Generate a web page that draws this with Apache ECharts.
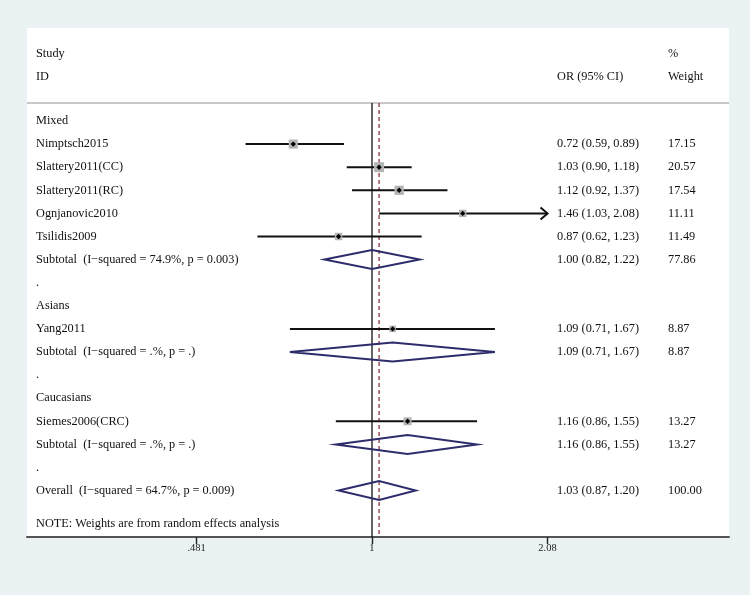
<!DOCTYPE html>
<html><head><meta charset="utf-8">
<script src="https://cdn.jsdelivr.net/npm/echarts@6/dist/echarts.min.js"></script>
<style>html,body{margin:0;padding:0;background:#eaf2f3}#c{width:750px;height:595px}</style>
</head><body><div id="c"></div>
<script>
// ---------------- data ----------------
const rowLabels = ['Mixed','Nimptsch2015','Slattery2011(CC)','Slattery2011(RC)','Ognjanovic2010','Tsilidis2009',
  'Subtotal  (I\u2212squared = 74.9%, p = 0.003)','.','Asians','Yang2011','Subtotal  (I\u2212squared = .%, p = .)','.',
  'Caucasians','Siemes2006(CRC)','Subtotal  (I\u2212squared = .%, p = .)','.','Overall  (I\u2212squared = 64.7%, p = 0.009)'];
const rowKinds = ['group','study','study','study','study','study','sum','blank','group','study','sum','blank','group','study','sum','blank','sum'];
const orValues = [null,0.72,1.03,1.12,1.46,0.87,1.00,null,null,1.09,1.09,null,null,1.16,1.16,null,1.03];
const ciLower  = [null,0.59,0.90,0.92,1.03,0.62,0.82,null,null,0.71,0.71,null,null,0.86,0.86,null,0.87];
const ciUpper  = [null,0.89,1.18,1.37,2.08,1.23,1.22,null,null,1.67,1.67,null,null,1.55,1.55,null,1.20];
const weights  = [null,17.15,20.57,17.54,11.11,11.49,77.86,null,null,8.87,8.87,null,null,13.27,13.27,null,100.00];
const headerStudy = ['Study','ID'];
const headerOR = ['','OR (95% CI)'];
const headerWeight = ['%','Weight'];
const noteText = 'NOTE: Weights are from random effects analysis';
const tickValues = [0.481, 1, 2.08];
const tickLabels = ['.481','1','2.08'];
const nullValue = 1;
const overallOR = 1.03;

// ---------------- layout ----------------
const FONT = 'Liberation Serif';
const FS = 12.3;
const X_TEXT = 36, X_OR = 557, X_W = 668;
const Y_HEADER = [-2.93, -1.93], Y_SEP = -0.78, Y_NOTE = 17.45, Y_MIN = -4.026, Y_MAX = 18.009;
const LN = Math.log;

const studyData = [], sumData = [], textData = [];
rowLabels.forEach((lab, i) => {
  const k = rowKinds[i];
  const ciStr = orValues[i] != null ? orValues[i].toFixed(2) + ' (' + ciLower[i].toFixed(2) + ', ' + ciUpper[i].toFixed(2) + ')' : '';
  const wStr = weights[i] != null ? weights[i].toFixed(2) : '';
  textData.push({value: [0, i], left: lab, mid: ciStr, right: wStr});
  if (k === 'study') {
    const hiClip = Math.min(ciUpper[i], tickValues[tickValues.length-1]);
    const arrow = ciUpper[i] >= tickValues[tickValues.length-1] ? 1 : 0;
    studyData.push([LN(orValues[i]), i, LN(ciLower[i]), LN(hiClip), weights[i], arrow]);
  } else if (k === 'sum') {
    sumData.push([LN(orValues[i]), i, LN(ciLower[i]), LN(ciUpper[i])]);
  }
});
Y_HEADER.forEach((y, j) => textData.push({value: [0, y], left: headerStudy[j], mid: headerOR[j], right: headerWeight[j]}));
textData.push({value: [0, Y_NOTE], left: noteText, mid: '', right: ''});

const txt = (x, y, s) => ({type: 'text', x: x, y: y, style: {text: s, fill: '#111', font: FS + 'px "' + FONT + '"', textVerticalAlign: 'middle', textAlign: 'left'}});

const chart = echarts.init(document.getElementById('c'), null, {renderer: 'canvas'});
chart.setOption({
  backgroundColor: '#eaf2f3',
  animation: false,
  grid: {left: 27, right: 21, top: 28, bottom: 58, show: true, backgroundColor: '#ffffff', borderWidth: 0},
  xAxis: {
    type: 'value', min: -1.4393, max: 1.4894,
    splitLine: {show: false},
    axisLine: {show: true, onZero: false, lineStyle: {color: '#555', width: 2}},
    axisTick: {show: true, customValues: tickValues.map(LN), length: 7, lineStyle: {color: '#222', width: 1.4}},
    axisLabel: {show: true, customValues: tickValues.map(LN), margin: 6, color: '#222', fontFamily: FONT, fontSize: 10.5,
      formatter: v => { let b = 0; tickValues.forEach((t, j) => { if (Math.abs(LN(t) - v) < Math.abs(LN(tickValues[b]) - v)) b = j; }); return tickLabels[b]; }}
  },
  yAxis: {type: 'value', inverse: true, min: Y_MIN, max: Y_MAX, show: false, splitLine: {show: false}},
  series: [
    { // separator + reference lines
      type: 'custom', silent: true, data: [[0, 0]],
      renderItem(params, api) {
        const cs = params.coordSys;
        const yTop = api.coord([0, Y_SEP])[1], yBot = api.coord([0, Y_MAX])[1];
        const x1 = api.coord([LN(nullValue), 0])[0], x2 = api.coord([LN(overallOR), 0])[0];
        return {type: 'group', children: [
          {type: 'line', shape: {x1: cs.x, y1: yTop, x2: cs.x + cs.width, y2: yTop}, style: {stroke: '#c8c8c8', lineWidth: 2}},
          {type: 'line', shape: {x1: x1, y1: yTop, x2: x1, y2: yBot}, style: {stroke: '#111', lineWidth: 1.3}},
          {type: 'line', shape: {x1: x2, y1: yTop, x2: x2, y2: yBot}, style: {stroke: '#90353b', lineWidth: 1.3, lineDash: [4, 3]}}
        ]};
      }
    },
    { // studies
      type: 'custom', silent: true, data: studyData,
      renderItem(params, api) {
        const y = api.coord([0, api.value(1)])[1];
        const xo = api.coord([api.value(0), 0])[0];
        const xl = api.coord([api.value(2), 0])[0];
        const xh = api.coord([api.value(3), 0])[0];
        const s = 2.2 * Math.sqrt(api.value(4));
        const ch = [
          {type: 'line', shape: {x1: xl, y1: y, x2: xh, y2: y}, style: {stroke: '#111', lineWidth: 2}},
          {type: 'rect', shape: {x: xo - s/2, y: y - s/2, width: s, height: s}, style: {fill: '#b4b4b4'}},
          {type: 'polygon', shape: {points: [[xo-2.7, y], [xo, y-2.7], [xo+2.7, y], [xo, y+2.7]]}, style: {fill: '#000'}}
        ];
        if (api.value(5)) ch.push({type: 'polyline', shape: {points: [[xh-7, y-6], [xh, y], [xh-7, y+6]]}, style: {stroke: '#111', lineWidth: 2, fill: null}});
        return {type: 'group', children: ch};
      }
    },
    { // diamonds
      type: 'custom', silent: true, data: sumData,
      renderItem(params, api) {
        const y = api.coord([0, api.value(1)])[1];
        const xo = api.coord([api.value(0), 0])[0];
        const xl = api.coord([api.value(2), 0])[0];
        const xh = api.coord([api.value(3), 0])[0];
        const h = 9.5;
        return {type: 'polygon', shape: {points: [[xl, y], [xo, y-h], [xh, y], [xo, y+h]]}, style: {fill: 'none', stroke: '#2e2d6c', lineWidth: 2}};
      }
    },
    { // texts
      type: 'custom', silent: true, data: textData, clip: false,
      renderItem(params, api) {
        const d = textData[params.dataIndex];
        const y = api.coord([0, api.value(1)])[1];
        const ch = [txt(X_TEXT, y, d.left)];
        if (d.mid) ch.push(txt(X_OR, y, d.mid));
        if (d.right) ch.push(txt(X_W, y, d.right));
        return {type: 'group', children: ch};
      }
    }
  ]
});
</script></body></html>
